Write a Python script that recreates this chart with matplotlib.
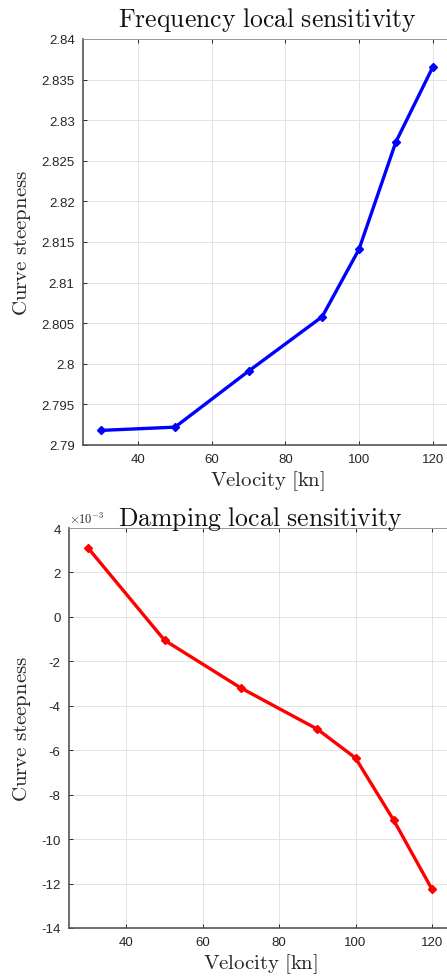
import matplotlib
matplotlib.use("Agg")
import matplotlib.pyplot as plt
from matplotlib.ticker import FuncFormatter, MultipleLocator

velocity = [30, 50, 70, 90, 100, 110, 120]
freq_steepness = [2.7918, 2.7922, 2.7991, 2.8058, 2.8141, 2.8273, 2.8365]
damp_steepness_e3 = [3.1, -1.05, -3.2, -5.05, -6.35, -9.15, -12.25]
x_ticks = [40, 60, 80, 100, 120]

plt.rcParams['mathtext.fontset'] = 'cm'
plt.rcParams['font.family'] = ['Liberation Sans', 'DejaVu Sans']

W, H = 447, 979
fig = plt.figure(figsize=(W / 100, H / 100), dpi=100)

def style(ax):
    ax.grid(True, color='#e3e3e3', linewidth=0.7)
    ax.set_axisbelow(True)
    ax.tick_params(direction='in', top=True, right=True, length=3, width=0.7,
                   colors='#262626', labelsize=9.5, pad=6)
    for s in ax.spines.values():
        s.set_color('#9a9a9a')
        s.set_linewidth(0.7)
    ax.spines['left'].set_color('#555555')
    ax.spines['left'].set_linewidth(1.2)
    ax.spines['bottom'].set_color('#555555')
    ax.spines['bottom'].set_linewidth(1.2)
    ax.set_xlim(25, 125)
    ax.set_xticks(x_ticks)
    ax.set_xlabel(r'$\mathrm{Velocity\ [kn]}$', fontsize=15, color='#262626', labelpad=2)
    ax.set_ylabel(r'$\mathrm{Curve\ steepness}$', fontsize=15, color='#262626')

# Top axes
l1, r1 = 83, 451
ax1 = fig.add_axes([l1 / W, 1 - 446 / H, (r1 - l1) / W, (446 - 40) / H])
ax1.plot(velocity, freq_steepness, color='#0000ff', linewidth=2.4,
         marker='D', markersize=4.5)
style(ax1)
ax1.set_ylim(2.79, 2.84)
ax1.yaxis.set_major_locator(MultipleLocator(0.005))
ax1.yaxis.set_major_formatter(FuncFormatter(lambda v, p: ('%.3f' % v).rstrip('0').rstrip('.')))
ax1.set_title(r'$\mathrm{Frequency\ local\ sensitivity}$', fontsize=18.5, color='#111111', pad=9)
ax1.yaxis.set_label_coords((33 - l1) / (r1 - l1), 0.5)

# Bottom axes
l2, r2 = 69, 451
ax2 = fig.add_axes([l2 / W, 1 - 929 / H, (r2 - l2) / W, (929 - 529) / H])
ax2.plot(velocity, [v * 1e-3 for v in damp_steepness_e3], color='#ff0000', linewidth=2.4,
         marker='D', markersize=4.5)
style(ax2)
ax2.set_ylim(-14e-3, 4e-3)
ax2.yaxis.set_major_locator(MultipleLocator(2e-3))
ax2.yaxis.set_major_formatter(FuncFormatter(lambda v, p: ('%d' % round(v * 1e3)).replace('\u2212', '-')))
ax2.set_title(r'$\mathrm{Damping\ local\ sensitivity}$', fontsize=18.5, color='#111111', pad=2)
ax2.text(0.0, 1.005, r'$\times10^{-3}$', transform=ax2.transAxes, fontsize=9,
         ha='left', va='bottom', color='#262626')
ax2.yaxis.set_label_coords((33 - l2) / (r2 - l2), 0.5)

fig.savefig('out.png', dpi=100)
